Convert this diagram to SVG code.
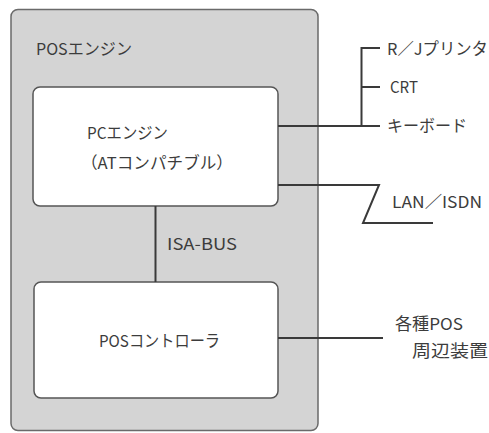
<svg xmlns="http://www.w3.org/2000/svg" width="489" height="433" viewBox="0 0 489 433">
<style>
.t{font-family:"Noto Sans CJK JP","Liberation Sans",sans-serif;font-size:16.5px;fill:#3c3c3c}
.box{fill:#fff;stroke:#555;stroke-width:1.5}
.ln{fill:none;stroke:#3a3a3a;stroke-width:2}
</style>
<rect width="489" height="433" fill="#fff"/>
<g id="pos-engine">
<rect x="11" y="9.5" width="307" height="421" rx="7" fill="#d4d4d4" stroke="#6a6a6a" stroke-width="1.5"/>
<text class="t" x="36" y="55" textLength="96" lengthAdjust="spacingAndGlyphs">POSエンジン</text>
</g>
<g id="pc-engine">
<rect class="box" x="33" y="87" width="245" height="119" rx="7"/>
<text class="t" x="87" y="139" textLength="81" lengthAdjust="spacingAndGlyphs">PCエンジン</text>
<text class="t" x="81" y="169" textLength="152" lengthAdjust="spacingAndGlyphs">（ATコンパチブル）</text>
</g>
<g id="pos-controller">
<rect class="box" x="34" y="282" width="244" height="116" rx="7"/>
<text class="t" x="99" y="347" textLength="121" lengthAdjust="spacingAndGlyphs">POSコントローラ</text>
</g>
<g id="connectors">
<line class="ln" x1="155.5" y1="206" x2="155.5" y2="282"/>
<path class="ln" d="M278 126H380M361.5 126V48H380M361.5 87H380"/>
<path class="ln" d="M278 185H379L363 223H433"/>
<line class="ln" x1="278" y1="338" x2="383" y2="338"/>
</g>
<g id="labels">
<text class="t" x="167" y="250" textLength="70" lengthAdjust="spacingAndGlyphs">ISA-BUS</text>
<text class="t" x="387" y="55" textLength="101" lengthAdjust="spacingAndGlyphs">R／Jプリンタ</text>
<text class="t" x="390" y="93" textLength="28" lengthAdjust="spacingAndGlyphs">CRT</text>
<text class="t" x="387" y="132" textLength="80" lengthAdjust="spacingAndGlyphs">キーボード</text>
<text class="t" x="392" y="208" textLength="90" lengthAdjust="spacingAndGlyphs">LAN／ISDN</text>
<text class="t" x="395" y="330" textLength="68" lengthAdjust="spacingAndGlyphs">各種POS</text>
<text class="t" x="412" y="357" textLength="76" lengthAdjust="spacingAndGlyphs">周辺装置</text>
</g>
</svg>
